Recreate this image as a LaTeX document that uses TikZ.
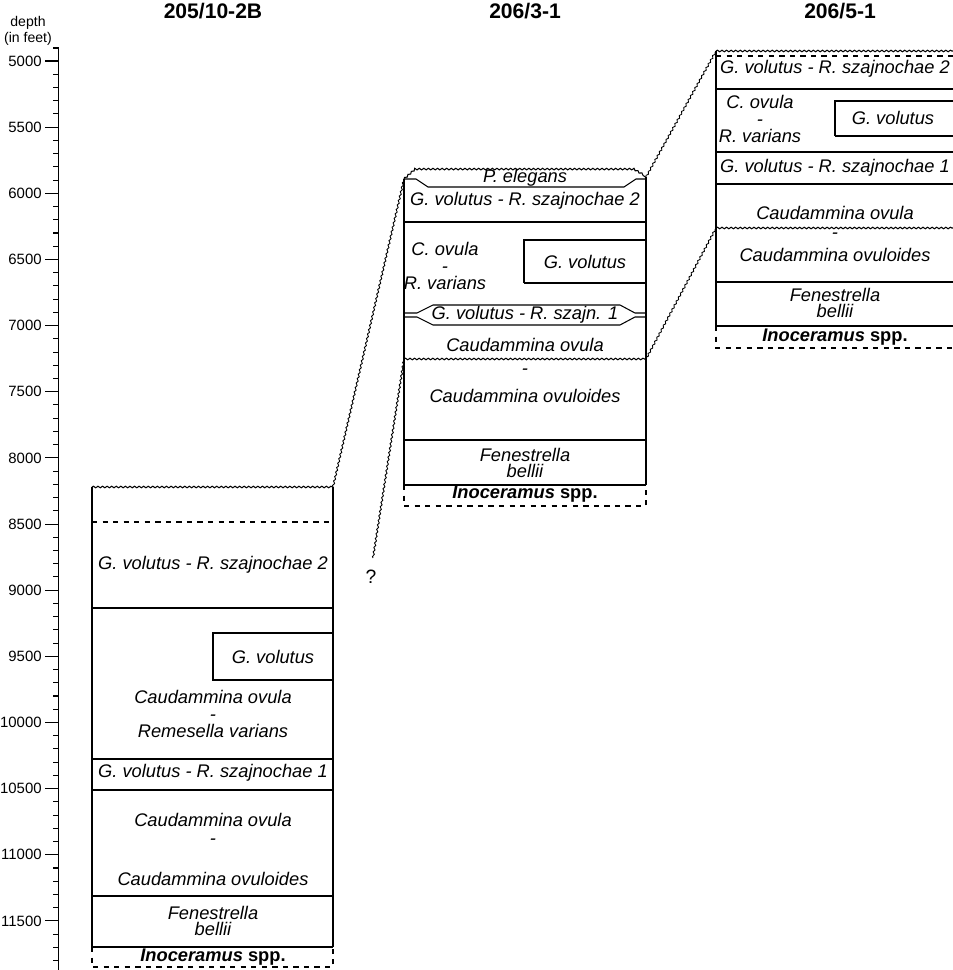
\documentclass[tikz,border=0pt]{standalone}
\usepackage{fontspec}
\setmainfont{Liberation Sans}
\usetikzlibrary{decorations.pathmorphing}

\begin{document}
\begin{tikzpicture}[x=0.02cm, y=-0.02cm,
		zone/.style={font=\fontsize{10.4}{9.5}\selectfont\itshape, align=center, inner sep=0pt},
		ino/.style={zone, font=\fontsize{10.4}{9.5}\selectfont\bfseries},
		wellname/.style={font=\fontsize{12}{14}\selectfont\bfseries, inner sep=0pt},
		depthlbl/.style={font=\fontsize{8.5}{9}\selectfont, inner sep=0pt},
		bed/.style={line width=0.6pt},
		wavy/.style={decorate, decoration={snake, amplitude=0.45pt, segment length=2.6pt}},
		corr/.style={wavy, line width=0.5pt}]

		\useasboundingbox (0,0) rectangle (953,970);

		% Draw depth axis
		\draw[bed] (53,48) -- (58.5,48) -- (58.5,970);
		\foreach \dep in {5000,5100,...,11800}
			\draw[bed] (53,{61+(\dep-5000)*0.1323}) -- (58.5,{61+(\dep-5000)*0.1323});
		\foreach \dep in {5000,5500,...,11500} {
			\draw[bed] (45,{61+(\dep-5000)*0.1323}) -- (58.5,{61+(\dep-5000)*0.1323});
			\node[depthlbl, anchor=east] (lbl\dep) at (42,{61+(\dep-5000)*0.1323}) {\dep};
		}
		\node[depthlbl, font=\fontsize{8}{9}\selectfont] (depth) at (28,23) {depth};
		\node[depthlbl, font=\fontsize{8}{9}\selectfont] (infeet) at (28,39) {(in feet)};

		% Well 205/10-2B
		\node[wellname] (well1) at (213,11) {205/10-2B};
		\draw[bed, wavy] (92,487) -- (333,487);
		\draw[bed] (92,487) -- (92,947) (333,487) -- (333,947);
		\draw[bed, dashed] (92,522) -- (333,522);
		\foreach \yy in {608,759,790,896,947}
			\draw[bed] (92,\yy) -- (333,\yy);
		\draw[bed, dashed] (92,947) -- (92,967) -- (333,967) -- (333,947);
		\draw[bed] (213,633) rectangle (333,680);

		\node[zone] (a2) at (213,565) {G. volutus - R. szajnochae 2};
		\node[zone] (agv) at (273,657) {G. volutus};
		\node[zone] (acr) at (213,714) {Caudammina ovula\\-\\Remesella varians};
		\node[zone] (a1) at (213,773) {G. volutus - R. szajnochae 1};
		\node[zone] (aco) at (213,820) {Caudammina ovula};
		\node[zone] (adash) at (213,842) {-};
		\node[zone] (acoo) at (213,879) {Caudammina ovuloides};
		\node[zone] (afb) at (213,921) {Fenestrella\\bellii};
		\node[ino] (ain) at (213,957) {\itshape Inoceramus \upshape spp.};

		% Well 206/3-1
		\node[wellname] (well2) at (525,11) {206/3-1};
		\draw[bed, wavy] (404,179) -- (414,170) -- (634,170) -- (646,177);
		\draw[bed] (404,179) -- (416,179) -- (428,187) -- (624,187) -- (636,179) -- (646,179);
		\draw[bed] (404,179) -- (404,485) (646,177) -- (646,485);
		\draw[bed] (404,222) -- (646,222);
		\draw[bed] (524,283) -- (524,240) -- (646,240) (524,283) -- (646,283);
		\draw[bed] (404,313) -- (417,313) -- (433,305) -- (620,305) -- (635,313) -- (646,313);
		\draw[bed] (404,317) -- (417,317) -- (433,325) -- (620,325) -- (635,317) -- (646,317);
		\draw[bed, wavy] (404,359) -- (646,359);
		\draw[bed] (404,440) -- (646,440) (404,485) -- (646,485);
		\draw[bed, dashed] (404,485) -- (404,506) -- (646,506) -- (646,485);

		\node[zone] (bpe) at (525,178) {P. elegans};
		\node[zone] (b2) at (525,201) {G. volutus - R. szajnochae 2};
		\node[zone] (bcr) at (445,266) {C. ovula\\-\\R. varians};
		\node[zone] (bgv) at (585,262) {G. volutus};
		\node[zone] (b1) at (525,315) {G. volutus - R. szajn. 1};
		\node[zone] (bco) at (525,345) {Caudammina ovula};
		\node[zone] (bdash) at (525,372) {-};
		\node[zone] (bcoo) at (525,396) {Caudammina ovuloides};
		\node[zone] (bfb) at (525,463) {Fenestrella\\bellii};
		\node[ino] (bin) at (525,494) {\itshape Inoceramus \upshape spp.};

		% Well 206/5-1
		\node[wellname] (well3) at (840,11) {206/5-1};
		\draw[bed, wavy] (716,51) -- (953,51);
		\draw[bed, dashed] (716,56) -- (953,56);
		\draw[bed] (716,51) -- (716,326);
		\foreach \yy in {89,152,184,282,326}
			\draw[bed] (716,\yy) -- (953,\yy);
		\draw[bed] (835,136) -- (835,101) -- (953,101) (835,136) -- (953,136);
		\draw[bed, wavy] (716,228) -- (953,228);
		\draw[bed, dashed] (716,326) -- (716,348) -- (953,348);

		\node[zone] (c2) at (835,69) {G. volutus - R. szajnochae 2};
		\node[zone] (ccr) at (760,119) {C. ovula\\-\\R. varians};
		\node[zone] (cgv) at (893,118) {G. volutus};
		\node[zone] (c1) at (835,168) {G. volutus - R. szajnochae 1};
		\node[zone] (cco) at (835,213) {Caudammina ovula};
		\node[zone] (cdash) at (835,236) {-};
		\node[zone] (ccoo) at (835,255) {Caudammina ovuloides};
		\node[zone] (cfb) at (835,303) {Fenestrella\\bellii};
		\node[ino] (cin) at (835,337) {\itshape Inoceramus \upshape spp.};

		% Correlation lines
		\coordinate (topA) at (333,487);
		\coordinate (topBl) at (404,179);
		\coordinate (topBr) at (646,177);
		\coordinate (topC) at (716,51);
		\coordinate (unBl) at (404,359);
		\coordinate (unBr) at (646,359);
		\coordinate (unC) at (716,228);
		\coordinate (qend) at (373,558);
		\node[zone, font=\fontsize{11}{9.5}\selectfont] (quest) at (371,577) {?};
		\draw[corr] (topA) -- (topBl);
		\draw[corr] (qend) -- (unBl);
		\draw[corr] (topBr) -- (topC);
		\draw[corr] (unBr) -- (unC);
\end{tikzpicture}
\end{document}
